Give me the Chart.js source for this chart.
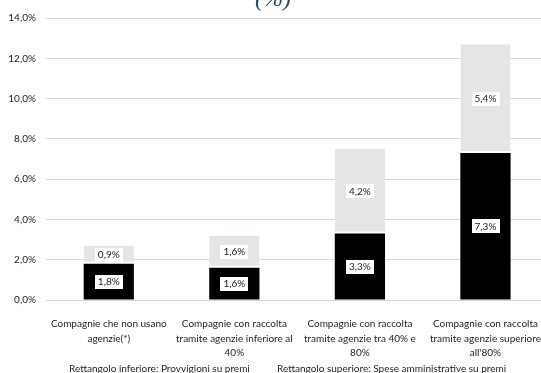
<!DOCTYPE html>
<html>
<head>
<meta charset="utf-8">
<script src="https://cdn.jsdelivr.net/npm/chart.js@4.4.1/dist/chart.umd.min.js"></script>
<style>
  html, body { margin: 0; padding: 0; background: #fff; overflow: hidden; width: 541px; height: 373px; }
  canvas { display: block; }
</style>
</head>
<body>
<canvas id="grafico" width="550" height="373"></canvas>
<script>
const categorie = [
  ['Compagnie che non usano', 'agenzie(*)'],
  ['Compagnie con raccolta', 'tramite agenzie inferiore al', '40%'],
  ['Compagnie con raccolta', 'tramite agenzie tra 40% e', '80%'],
  ['Compagnie con raccolta', 'tramite agenzie superiore', "all'80%"]
];
const provvigioni = [1.8, 1.6, 3.3, 7.3];
const speseAmministrative = [0.9, 1.6, 4.2, 5.4];
const legenda = [
  'Rettangolo inferiore: Provvigioni su premi',
  'Rettangolo superiore: Spese amministrative su premi'
];
const titolo = '(%)';

const FONT = 'Lato, "Liberation Sans", sans-serif';
const TESTO = '#1f1f1f';
const fmt = v => v.toFixed(1).replace('.', ',') + '%';

// etichette dei valori con riquadro bianco al centro di ogni segmento
const etichette = {
  id: 'etichette',
  afterDatasetsDraw(chart) {
    const ctx = chart.ctx;
    ctx.save();
    ctx.font = '10px ' + FONT;
    ctx.textAlign = 'center';
    ctx.textBaseline = 'middle';
    chart.data.datasets.forEach((ds, i) => {
      chart.getDatasetMeta(i).data.forEach((bar, j) => {
        const testo = fmt(ds.data[j]);
        const cy = (bar.y + bar.base) / 2;
        const w = ctx.measureText(testo).width + 6;
        const h = 14;
        ctx.fillStyle = '#ffffff';
        ctx.fillRect(Math.round(bar.x - w / 2), Math.round(cy - h / 2), Math.round(w), h);
        ctx.fillStyle = TESTO;
        ctx.fillText(testo, bar.x, cy + 0.5);
      });
    });
    ctx.restore();
  }
};

// titolo in alto e didascalia in basso
const testi = {
  id: 'testi',
  afterDraw(chart) {
    const ctx = chart.ctx;
    ctx.save();
    ctx.fillStyle = '#244a70';
    ctx.font = 'italic 24px "Liberation Serif", serif';
    ctx.textAlign = 'center';
    ctx.textBaseline = 'alphabetic';
    ctx.fillText(titolo, 273, 6);

    ctx.fillStyle = TESTO;
    ctx.font = '10px ' + FONT;
    ctx.textAlign = 'left';
    ctx.textBaseline = 'middle';
    ctx.fillText(legenda[0], 69, 368.5);
    ctx.fillText(legenda[1], 277, 368.5);
    ctx.restore();
  }
};

new Chart(document.getElementById('grafico'), {
  type: 'bar',
  data: {
    labels: categorie,
    datasets: [{
      label: legenda[0],
      data: provvigioni,
      backgroundColor: '#000000',
      borderWidth: 0,
      barPercentage: 0.4,
      categoryPercentage: 1
    }, {
      label: legenda[1],
      data: speseAmministrative,
      backgroundColor: '#e4e5e5',
      borderColor: '#ffffff',
      borderWidth: { bottom: 2, top: 0, left: 0, right: 0 },
      borderSkipped: false,
      barPercentage: 0.4,
      categoryPercentage: 1
    }]
  },
  options: {
    responsive: false,
    animation: false,
    layout: { padding: { top: 18, left: 0, right: 0, bottom: 0 } },
    plugins: {
      legend: { display: false },
      title: { display: false },
      tooltip: { enabled: false }
    },
    scales: {
      x: {
        stacked: true,
        grid: { display: false },
        border: { display: false },
        ticks: {
          color: TESTO,
          font: { family: FONT, size: 10, lineHeight: 1.45 },
          padding: 9,
          maxRotation: 0,
          autoSkip: false
        },
        afterFit(scale) { scale.height = 73; }
      },
      y: {
        stacked: true,
        min: 0,
        max: 14,
        border: { display: false },
        grid: { color: '#d9d9d9', lineWidth: 1, drawTicks: false },
        ticks: {
          stepSize: 2,
          padding: 10,
          color: TESTO,
          font: { family: FONT, size: 10 },
          callback: v => fmt(v)
        },
        afterFit(scale) { scale.width = 46; }
      }
    }
  },
  plugins: [etichette, testi]
});
</script>
</body>
</html>
